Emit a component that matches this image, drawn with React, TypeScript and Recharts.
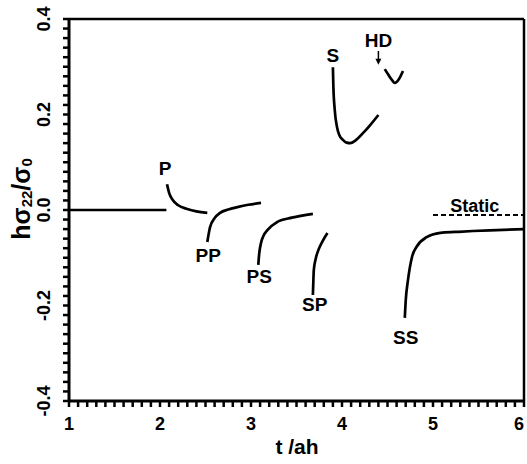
import { LineChart, Line, XAxis, YAxis, ReferenceLine, ReferenceDot } from 'recharts';

// curve segments: t = time (t/ah), v = h*sigma22/sigma0
const baseT = [1, 2.07];
const baseV = [0, 0];
const pT = [2.077, 2.1, 2.14, 2.2, 2.3, 2.4, 2.52];
const pV = [0.054, 0.036, 0.021, 0.01, 0.002, -0.003, -0.006];
const ppT = [2.52, 2.535, 2.55, 2.6, 2.66, 2.75, 2.85, 2.97, 3.11];
const ppV = [-0.067, -0.05, -0.036, -0.017, -0.006, 0.001, 0.006, 0.011, 0.015];
const psT = [3.08, 3.09, 3.11, 3.14, 3.18, 3.29, 3.45, 3.68];
const psV = [-0.115, -0.092, -0.069, -0.053, -0.042, -0.025, -0.016, -0.008];
const spT = [3.68, 3.685, 3.69, 3.71, 3.74, 3.79, 3.84];
const spV = [-0.178, -0.15, -0.126, -0.103, -0.084, -0.064, -0.048];
const sT = [3.9, 3.905, 3.92, 3.945, 3.97, 4.01, 4.05, 4.09, 4.15, 4.23, 4.31, 4.4];
const sV = [0.299, 0.26, 0.21, 0.174, 0.157, 0.147, 0.141, 0.14, 0.146, 0.161, 0.178, 0.199];
const hdT = [4.47, 4.51, 4.55, 4.58, 4.61, 4.64, 4.67];
const hdV = [0.295, 0.283, 0.272, 0.266, 0.27, 0.279, 0.291];
const ssT = [4.69, 4.7, 4.725, 4.77, 4.82, 4.93, 5.08, 5.25, 5.44, 5.7, 6.0];
const ssV = [-0.226, -0.19, -0.147, -0.098, -0.077, -0.057, -0.048, -0.046, -0.044, -0.042, -0.04];
const staticT = [5.0, 6.0];
const staticV = [-0.0105, -0.0105];

// text labels placed next to the curves
const labels = [
  { text: 'P', t: 2.055, v: 0.088 },
  { text: 'PP', t: 2.53, v: -0.094 },
  { text: 'PS', t: 3.09, v: -0.138 },
  { text: 'SP', t: 3.7, v: -0.197 },
  { text: 'SS', t: 4.7, v: -0.266 },
  { text: 'S', t: 3.9, v: 0.325 },
  { text: 'HD', t: 4.4, v: 0.356 },
  { text: 'Static', t: 5.46, v: 0.01 },
];
const arrowT = [4.4, 4.4];
const arrowV = [0.333, 0.31];

// every 0.1 on x and every 0.02 on y gets a mark, whole steps get a label
const xTicks = Array.from({ length: 51 }, (_, i) => Math.round((1 + i * 0.1) * 10) / 10);
const yTicks = Array.from({ length: 41 }, (_, i) => Math.round((-0.4 + i * 0.02) * 100) / 100);

const zip = (t: number[], v: number[]) => t.map((x, i) => ({ t: x, v: v[i] }));

const curves = [
  zip(baseT, baseV),
  zip(pT, pV),
  zip(ppT, ppV),
  zip(psT, psV),
  zip(spT, spV),
  zip(sT, sV),
  zip(hdT, hdV),
  zip(ssT, ssV),
];

const FONT = '"Liberation Sans", Arial, sans-serif';
const isXMajor = (t: number) => Math.abs(t - Math.round(t)) < 1e-6;
const isYMajor = (v: number) => Math.abs(v / 0.2 - Math.round(v / 0.2)) < 1e-6;

const XTick = (props: any) => {
  const { x, payload } = props;
  if (!isXMajor(payload.value)) return <g />;
  return (
    <text x={Math.min(x, 519)} y={424} textAnchor="middle" dominantBaseline="central" fontFamily={FONT} fontWeight="bold" fontSize={18} fill="#000">
      {Math.round(payload.value)}
    </text>
  );
};

const YTick = (props: any) => {
  const { y, payload } = props;
  if (!isYMajor(payload.value)) return <g />;
  return (
    <text x={44} y={y} transform={`rotate(-90, 44, ${y})`} textAnchor="middle" dominantBaseline="central" fontFamily={FONT} fontWeight="bold" fontSize={18} fill="#000">
      {Number(payload.value).toFixed(1)}
    </text>
  );
};

const arrowHead = (props: any) => {
  const { cx, cy } = props;
  return <path d={`M${cx - 3},${cy - 6} L${cx + 3},${cy - 6} L${cx},${cy} Z`} fill="#000" />;
};

export default function App() {
  return (
    <div style={{ position: 'absolute', left: 0, top: 0, background: '#fff' }}>
      <LineChart width={527} height={464} margin={{ top: 19, right: 3, bottom: 0, left: 0 }}>
        <XAxis
          type="number"
          dataKey="t"
          domain={[1, 6]}
          ticks={xTicks}
          interval={0}
          tickSize={6}
          tickLine={{ stroke: '#000', strokeWidth: 2.5 }}
          tick={<XTick />}
          height={63}
          stroke="#000"
          axisLine={{ stroke: '#000', strokeWidth: 3 }}
          label={{
            content: () => (
              <text x={297} y={446} textAnchor="middle" dominantBaseline="central" fontFamily={FONT} fontWeight="bold" fontSize={21} fill="#000">
                t /ah
              </text>
            ),
          }}
        />
        <YAxis
          type="number"
          domain={[-0.4, 0.4]}
          ticks={yTicks}
          interval={0}
          tickSize={6}
          tickLine={{ stroke: '#000', strokeWidth: 2.5 }}
          tick={<YTick />}
          width={69}
          stroke="#000"
          axisLine={{ stroke: '#000', strokeWidth: 3 }}
          label={{
            content: () => (
              <text x={21} y={199} transform="rotate(-90, 21, 199)" textAnchor="middle" dominantBaseline="central" fontFamily={FONT} fontWeight="bold" fontSize={25} fill="#000">
                hσ
                <tspan dy={5} fontSize={15}>22</tspan>
                <tspan dy={-5}>/σ</tspan>
                <tspan dy={5} fontSize={15}>0</tspan>
              </text>
            ),
          }}
        />
        <ReferenceLine y={0.4} stroke="#000" strokeWidth={2.5} />
        <ReferenceLine x={6} stroke="#000" strokeWidth={2.5} />
        {curves.map((d, i) => (
          <Line
            key={i}
            data={d}
            dataKey="v"
            type="monotone"
            stroke="#000"
            strokeWidth={2.7}
            dot={false}
            isAnimationActive={false}
          />
        ))}
        <Line
          data={zip(staticT, staticV)}
          dataKey="v"
          type="linear"
          stroke="#000"
          strokeWidth={2}
          strokeDasharray="5 3"
          dot={false}
          isAnimationActive={false}
        />
        <Line
          data={zip(arrowT, arrowV)}
          dataKey="v"
          type="linear"
          stroke="#000"
          strokeWidth={1.5}
          dot={false}
          isAnimationActive={false}
        />
        <ReferenceDot x={arrowT[1]} y={arrowV[1] - 0.006} r={3} shape={arrowHead} />
        {labels.map((l) => (
          <ReferenceDot
            key={l.text}
            x={l.t}
            y={l.v}
            r={0}
            fill="none"
            stroke="none"
            label={{
              value: l.text,
              position: 'center',
              fontFamily: FONT,
              fontWeight: 'bold',
              fontSize: l.text === 'Static' ? 18 : 19,
              fill: '#000',
            }}
          />
        ))}
      </LineChart>
    </div>
  );
}
